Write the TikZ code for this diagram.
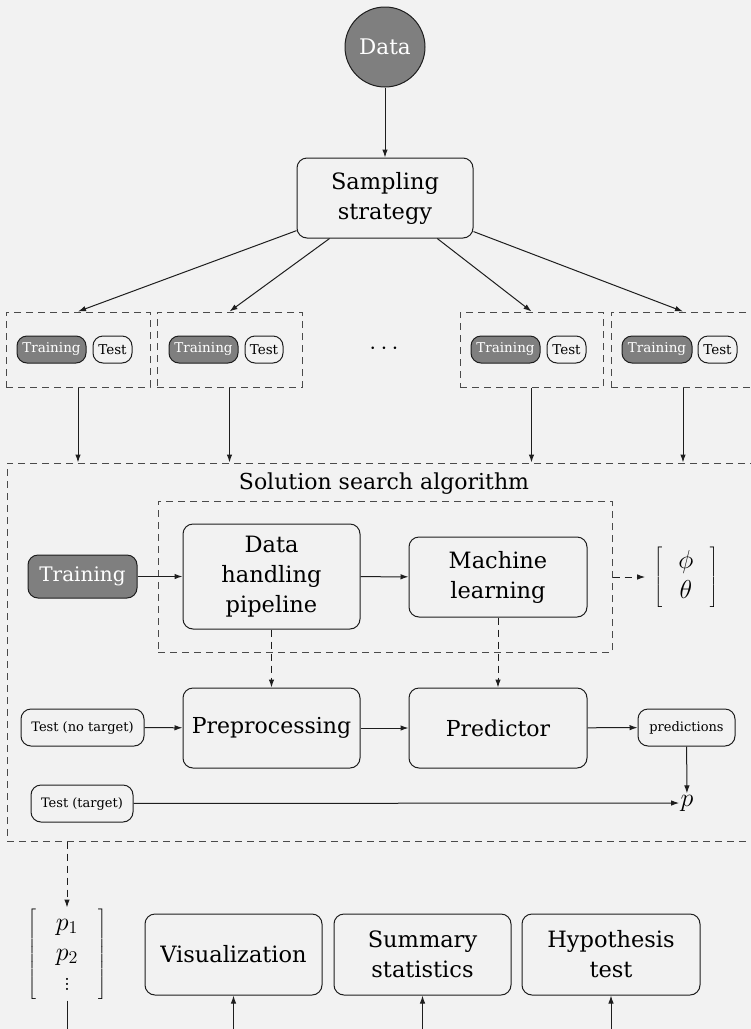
\documentclass[tikz,border=0pt]{standalone}
\usepackage{fontspec}
\setmainfont{DejaVu Serif}
\usetikzlibrary{arrows.meta,calc}
\definecolor{bg}{HTML}{F2F2F2}
\definecolor{darkfill}{HTML}{7F7F7F}
\definecolor{ink}{HTML}{1E1E1E}
\definecolor{dashink}{HTML}{4A4A4A}

% light vertical dots taken from Latin Modern
\newcommand{\lightvdots}{\hbox{\fontfamily{lmr}\selectfont$\vdots$}}

\tikzset{
  arr/.style={draw=ink, line width=1pt, -{Latex[length=8pt,width=5.5pt]}},
  darr/.style={arr, dash pattern=on 7pt off 5pt},
  box/.style={draw=ink, line width=1pt, rounded corners=10pt, align=center,
    inner sep=2pt, font=\fontsize{22.5}{30}\selectfont},
  bigbox/.style={box, font=\fontsize{22}{26}\selectfont},
  pill/.style={draw=ink, line width=1pt, rounded corners=10pt, inner sep=0pt,
    minimum height=27pt, font=\fontsize{13.5}{15}\selectfont},
  darkpill/.style={pill, fill=darkfill, text=white},
  label/.style={draw=ink, line width=1pt, rounded corners=10pt, inner sep=0pt,
    minimum height=37pt, font=\fontsize{13}{15}\selectfont},
  group/.style={draw=dashink, line width=1pt, dash pattern=on 7pt off 5pt,
    inner sep=0pt},
  mathnode/.style={inner sep=2pt, scale=1.25, transform shape,
    font=\fontsize{20.74}{24}\selectfont},
}

\begin{document}
\begin{tikzpicture}[x=1pt,y=-1pt]
\useasboundingbox (0,0) rectangle (751,1029);
\fill[bg] (0,0) rectangle (751,1029);
\clip (0,0) rectangle (751,1029);

% source and sampling
\node[circle, draw=ink, line width=1pt, fill=darkfill, text=white,
      minimum size=80pt, inner sep=0pt, font=\fontsize{21.5}{24}\selectfont]
      (data) at (385,47) {Data};
\node[box, minimum width=176pt, minimum height=80pt] (samp) at (385,198)
      {Sampling\\strategy};
\draw[arr] (data) -- (samp);

% resampled splits
\node[group, minimum width=144pt, minimum height=75pt] (g1) at (78,349.5) {};
\node[group, minimum width=145pt, minimum height=75pt] (g2) at (229.5,349.5) {};
\node[group, minimum width=143pt, minimum height=75pt] (g3) at (531.5,349.5) {};
\node[group, minimum width=144pt, minimum height=75pt] (g4) at (683,349.5) {};

\node[darkpill, minimum width=69pt] (tr1) at (51.5,349.5) {Training};
\node[pill, minimum width=39pt] (te1) at (112.5,349.5) {Test};
\node[darkpill, minimum width=69pt] (tr2) at (203.5,349.5) {Training};
\node[pill, minimum width=38pt] (te2) at (264,349.5) {Test};
\node[darkpill, minimum width=69pt] (tr3) at (505.5,349.5) {Training};
\node[pill, minimum width=39pt] (te3) at (566.5,349.5) {Test};
\node[darkpill, minimum width=70pt] (tr4) at (657,349.5) {Training};
\node[pill, minimum width=39pt] (te4) at (717.5,349.5) {Test};
\node[scale=1.2, transform shape, font=\fontsize{20.74}{24}\selectfont]
      (dots) at (384,349) {$\cdots$};

\foreach \g in {g1,g2,g3,g4}{\draw[arr] (samp) -- (\g.north);}

% search algorithm frame
\node[group, minimum width=750pt, minimum height=378pt] (search) at (382,652) {};
\node[font=\fontsize{22}{26}\selectfont] (title) at (384,484)
      {Solution search algorithm};
\foreach \g in {g1,g2,g3,g4}{\draw[arr] (\g.south) -- (\g.south |- search.north);}

\node[group, minimum width=454pt, minimum height=151pt] (core) at (385,576.5) {};
\node[box, fill=darkfill, text=white, minimum width=109pt, minimum height=43pt,
      font=\fontsize{20}{24}\selectfont] (train) at (82.5,576.5) {Training};
\node[box, minimum width=177pt, minimum height=105pt] (dhp) at (271.5,576.5)
      {Data\\handling\\pipeline};
\node[box, minimum width=178pt, minimum height=80pt] (ml) at (498,577)
      {Machine\\learning};
\node[mathnode] (params) at (686,577)
      {$\left[\begin{array}{@{\hspace{13pt}}c@{\hspace{13pt}}}\phi\\ \theta\end{array}\right]$};
\draw[arr] (train) -- (dhp);
\draw[arr] (dhp) -- (ml);
\draw[darr] (core.east |- params) -- ($(params.west)+(-6,0)$);

% fitted pipeline applied to the test split
\node[bigbox, minimum width=177pt, minimum height=80pt] (prep) at (271.5,728)
      {Preprocessing};
\node[bigbox, minimum width=178pt, minimum height=80pt] (pred) at (498,728)
      {Predictor};
\node[label, minimum width=123pt] (tnt) at (82.5,727.5) {Test (no target)};
\node[label, minimum width=97pt] (preds) at (686.5,727.5) {predictions};
\node[label, minimum width=102pt] (tt) at (82,803.5) {Test (target)};
\node[mathnode, inner sep=1pt] (p) at (687,803) {$p$};
\draw[darr] (dhp) -- (prep);
\draw[darr] (ml) -- (pred);
\draw[arr] (tnt) -- (prep);
\draw[arr] (prep) -- (pred);
\draw[arr] (pred) -- (preds);
\draw[arr] (preds) -- (p);
\draw[arr] (tt) -- (p);

% collected scores and their analysis
\node[mathnode, inner sep=1pt] (scores) at (67,954)
      {$\left[\begin{array}{@{\hspace{16pt}}c@{\hspace{16pt}}}p_1\\ p_2\\ \lightvdots\end{array}\right]$};
\draw[darr] (search.south -| scores) -- (scores.north);
\coordinate (sout) at (67,1040);
\draw[draw=ink, line width=1pt] (scores.south) -- (sout);

\node[box, minimum width=177pt, minimum height=81pt] (vis) at (233.5,954.5)
      {Visualization};
\node[box, minimum width=177pt, minimum height=81pt] (summ) at (422.5,954.5)
      {Summary\\statistics};
\node[box, minimum width=178pt, minimum height=81pt] (hyp) at (611,954.5)
      {Hypothesis\\test};
\foreach \b in {vis,summ,hyp}{
  \coordinate (\b-in) at ($(\b.south)+(0,60)$);
  \draw[arr] (\b-in) -- (\b.south);
}
\end{tikzpicture}
\end{document}
